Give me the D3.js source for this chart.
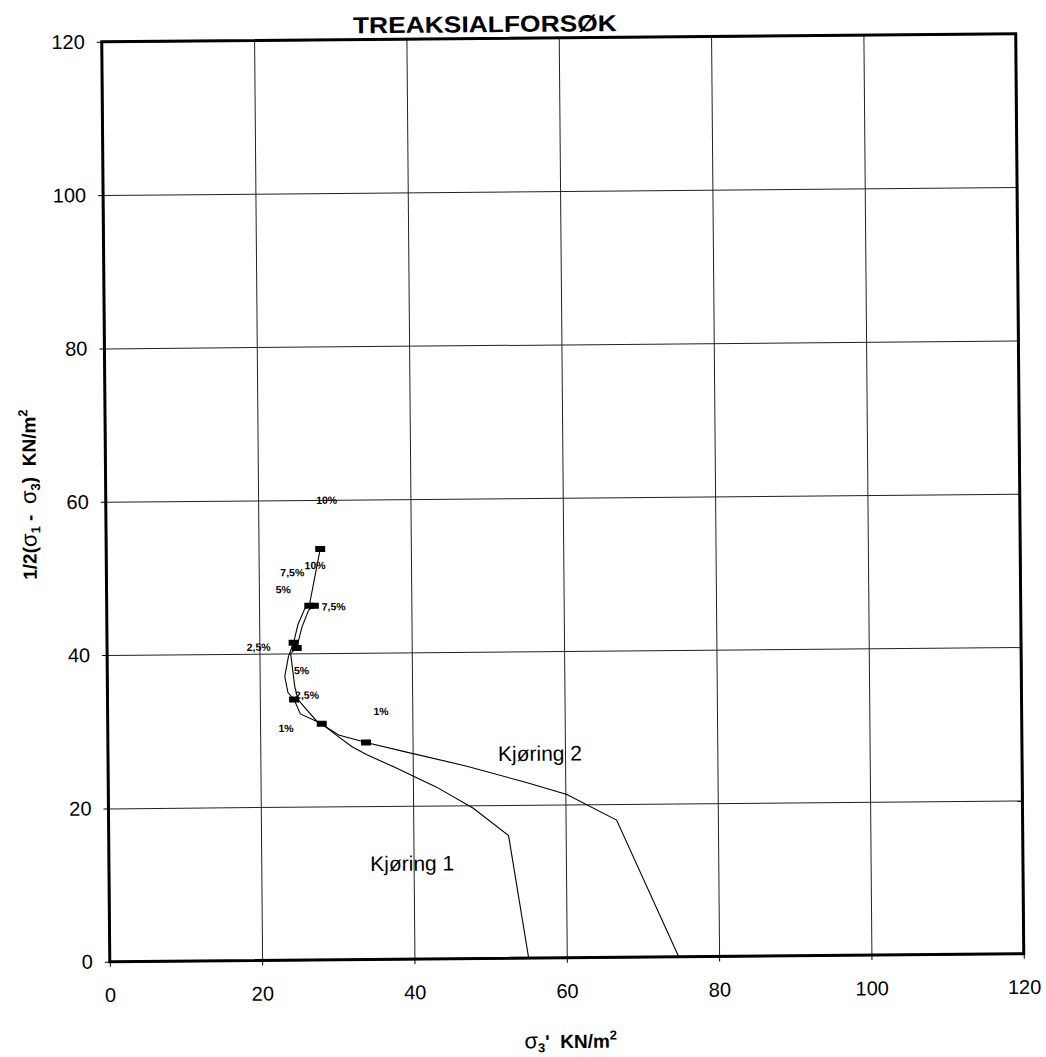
<!DOCTYPE html>
<html><head><meta charset="utf-8">
<script src="https://cdn.jsdelivr.net/npm/d3@7"></script>
<style>body{margin:0;background:#fff}svg{display:block}</style>
</head><body>
<svg id="c" width="1046" height="1057"></svg>
<script>
// ---- data ----
const xTicks = [0, 20, 40, 60, 80, 100, 120];
const yTicks = [0, 20, 40, 60, 80, 100, 120];

const seriesNames = ["Kjøring 1", "Kjøring 2"];

// Kjøring 1 stress path (σ3', ½(σ1-σ3))
const k1X = [55.0, 52.5, 47.9, 43.1, 37.7, 34.0, 32.0, 30.0, 28.1, 25.3, 24.5, 23.7, 23.3, 23.8, 24.5, 25.1, 26.0, 26.6, 28.1];
const k1Y = [0.0, 16.0, 19.6, 22.4, 25.0, 26.7, 27.8, 29.3, 30.8, 32.1, 34.0, 34.9, 37.0, 39.6, 41.4, 43.8, 45.8, 46.2, 53.6];

// Kjøring 2 stress path
const k2X = [74.7, 66.7, 60.2, 54.9, 47.1, 39.2, 33.9, 30.3, 27.4, 26.1, 25.0, 24.6, 24.4, 24.1, 24.9, 25.6, 26.5, 27.2];
const k2Y = [0.0, 17.9, 21.3, 22.9, 25.1, 27.0, 28.3, 29.3, 31.2, 32.7, 34.0, 35.7, 37.4, 40.0, 40.7, 43.4, 45.6, 46.2];

// strain markers
const m1X = [28.1, 24.5, 24.5, 26.6, 28.1];
const m1Y = [30.8, 34.0, 41.4, 46.2, 53.6];
const m2X = [33.9, 24.9, 27.2];
const m2Y = [28.3, 40.7, 46.2];

// strain labels
const strainLabels = ["1%", "2,5%", "5%", "7,5%", "10%"];
const lab1X = [23.4, 19.9, 23.2, 24.4, 29.0];
const lab1Y = [30.3, 40.9, 48.4, 50.6, 60.0];
const lab2X = [35.9, 26.2, 25.5, 29.8, 27.4];
const lab2Y = [32.4, 34.6, 37.8, 46.1, 51.5];

// series name label anchors (left x, middle y)
const nameX = [34.3, 51.2];
const nameY = [12.5, 26.7];

// ---- layout ----
const L = 105.75, R = 1019.75, T = 37.75, B = 957.75;
const W = R - L, H = B - T;
const cx = (L + R) / 2, cy = (T + B) / 2;

const svg = d3.select("#c");
const root = svg.append("g").attr("transform", `rotate(-0.5, ${cx}, ${cy})`);

const x = d3.scaleLinear().domain([0, 120]).range([L, R]);
const y = d3.scaleLinear().domain([0, 120]).range([B, T]);

const font = "'Liberation Sans', Arial, Helvetica, sans-serif";

// grid
root.append("g").attr("transform", `translate(0,${B})`)
  .call(d3.axisBottom(x).tickValues(xTicks).tickSize(-H).tickFormat(""))
  .call(g => g.select(".domain").remove())
  .call(g => g.selectAll("line").attr("stroke", "#222").attr("stroke-width", 1));
root.append("g").attr("transform", `translate(${L},0)`)
  .call(d3.axisLeft(y).tickValues(yTicks).tickSize(-W).tickFormat(""))
  .call(g => g.select(".domain").remove())
  .call(g => g.selectAll("line").attr("stroke", "#222").attr("stroke-width", 1));

// axes with labels
const ax = root.append("g").attr("transform", `translate(0,${B})`)
  .call(d3.axisBottom(x).tickValues(xTicks).tickSize(5).tickPadding(21).tickFormat(d3.format("d")));
const ay = root.append("g").attr("transform", `translate(${L},0)`)
  .call(d3.axisLeft(y).tickValues(yTicks).tickSize(5).tickPadding(12).tickFormat(d3.format("d")));
[ax, ay].forEach(a => {
  a.select(".domain").remove();
  a.selectAll("line").attr("stroke", "#000").attr("stroke-width", 1);
  a.selectAll("text").attr("font-family", font).attr("font-size", 20).attr("fill", "#000");
});

// frame
root.append("rect").attr("x", L).attr("y", T).attr("width", W).attr("height", H)
  .attr("fill", "none").attr("stroke", "#000").attr("stroke-width", 3);

// lines
const line = d3.line().x(d => x(d[0])).y(d => y(d[1]));
const s1 = k1X.map((v, i) => [v, k1Y[i]]);
const s2 = k2X.map((v, i) => [v, k2Y[i]]);
root.selectAll(".path").data([s1, s2]).enter().append("path")
  .attr("d", line).attr("fill", "none").attr("stroke", "#000").attr("stroke-width", 1.1);

// markers
const mk = m1X.map((v, i) => [v, m1Y[i]]).concat(m2X.map((v, i) => [v, m2Y[i]]));
root.selectAll(".mk").data(mk).enter().append("rect")
  .attr("x", d => x(d[0]) - 5).attr("y", d => y(d[1]) - 3)
  .attr("width", 10).attr("height", 6).attr("fill", "#000");

// strain labels
const labs = lab1X.map((v, i) => [v, lab1Y[i], strainLabels[i]])
  .concat(lab2X.map((v, i) => [v, lab2Y[i], strainLabels[i]]));
root.selectAll(".lab").data(labs).enter().append("text")
  .attr("x", d => x(d[0])).attr("y", d => y(d[1]))
  .attr("text-anchor", "middle").attr("dominant-baseline", "central")
  .attr("font-family", font).attr("font-weight", "bold").attr("font-size", 10.5)
  .attr("fill", "#000")
  .text(d => d[2]);

// series names
root.selectAll(".nm").data(seriesNames).enter().append("text")
  .attr("x", (d, i) => x(nameX[i])).attr("y", (d, i) => y(nameY[i]))
  .attr("dominant-baseline", "central")
  .attr("font-family", font).attr("font-size", 21)
  .text(d => d);

// title
root.append("text").attr("x", 489).attr("y", 31.5).attr("text-anchor", "middle")
  .attr("font-family", font).attr("font-weight", "bold").attr("font-size", 23)
  .attr("textLength", 264).attr("lengthAdjust", "spacingAndGlyphs")
  .text("TREAKSIALFORSØK");

// x axis title
const xt = root.append("text").attr("x", 566).attr("y", 1048).attr("text-anchor", "middle")
  .attr("font-family", font).attr("font-weight", "bold").attr("font-size", 19)
  .attr("xml:space", "preserve");
xt.append("tspan").attr("font-size", 22).attr("font-weight", "normal").text("σ");
xt.append("tspan").attr("font-size", 13).attr("dy", 4).text("3");
xt.append("tspan").attr("dy", -4).text("'  KN/m");
xt.append("tspan").attr("font-size", 13).attr("dy", -8).text("2");

// y axis title
const yt = root.append("text").attr("transform", "translate(36,490) rotate(-90)")
  .attr("text-anchor", "middle")
  .attr("font-family", font).attr("font-weight", "bold").attr("font-size", 19)
  .attr("xml:space", "preserve");
yt.append("tspan").text("1/2(");
yt.append("tspan").attr("font-size", 22).attr("font-weight", "normal").text("σ");
yt.append("tspan").attr("font-size", 13).attr("dy", 4).text("1");
yt.append("tspan").attr("dy", -4).text(" -  ");
yt.append("tspan").attr("font-size", 22).attr("font-weight", "normal").text("σ");
yt.append("tspan").attr("font-size", 13).attr("dy", 4).text("3");
yt.append("tspan").attr("dy", -4).text(")  KN/m");
yt.append("tspan").attr("font-size", 13).attr("dy", -8).text("2");
</script>
</body></html>
